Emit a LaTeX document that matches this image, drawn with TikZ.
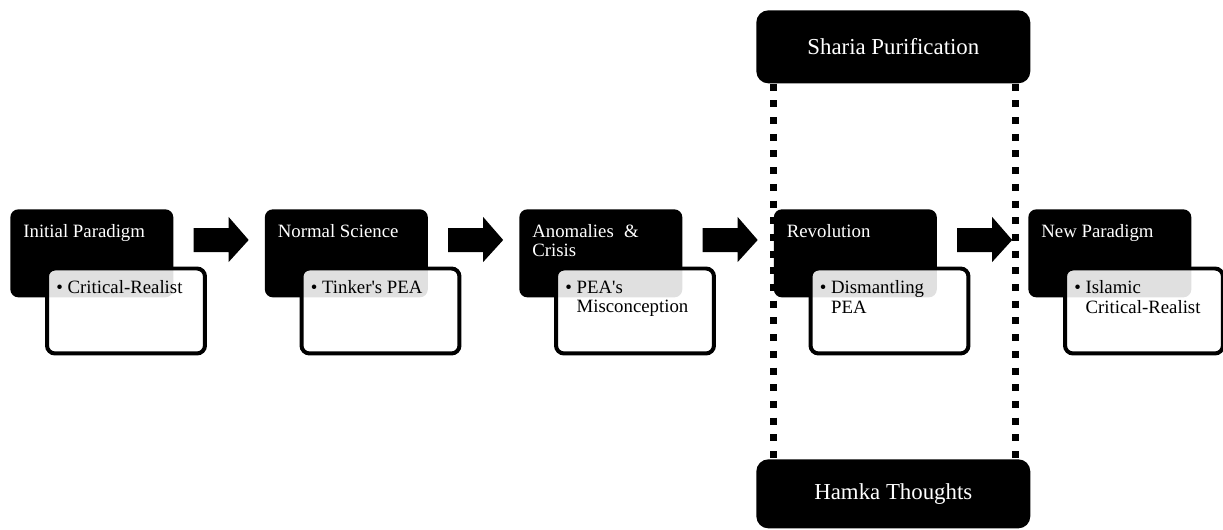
\documentclass[tikz,border=0pt]{standalone}
\usepackage{fontspec}
\setmainfont{Liberation Serif}
\usetikzlibrary{calc}
\newcommand{\bul}{\makebox[0.6em][l]{\textbullet}}
\newcommand{\hang}{\hspace*{0.6em}}
\tikzset{
  stagebox/.style={fill=black, rounded corners=0.16cm, minimum width=3.26cm, minimum height=1.76cm, inner sep=0, anchor=north west},
  itembox/.style={draw=black, line width=0.08cm, fill=white, fill opacity=0.88, rounded corners=0.16cm, minimum width=3.16cm, minimum height=1.7cm, inner sep=0, anchor=north west},
  stagetext/.style={text=white, anchor=north west, inner sep=0, align=left, font=\fontsize{10.7}{11}\selectfont},
  itemtext/.style={anchor=north west, inner sep=0, align=left, font=\fontsize{10.7}{11}\selectfont},
  sidebox/.style={fill=black, rounded corners=0.24cm, minimum width=5.48cm, inner sep=0, anchor=north west, text=white, font=\fontsize{13}{14}\selectfont},
  dotline/.style={line width=0.14cm, dash pattern=on 0.14cm off 0.194cm}
}
\begin{document}
\begin{tikzpicture}[x=0.02cm, y=-0.02cm]
\useasboundingbox (0,0) rectangle (1223,530);

% stages
\node[stagebox] (b1) at (10,209) {};
\node[stagebox] (b2) at (264.5,209) {};
\node[stagebox] (b3) at (519,209) {};
\node[stagebox] (b4) at (773.5,209) {};
\node[stagebox] (b5) at (1028,209) {};

\node[stagetext] (t1) at ($(b1.north west)+(13,15)$) {Initial Paradigm};
\node[stagetext] (t2) at ($(b2.north west)+(13,15)$) {Normal Science};
\node[stagetext] (t3) at ($(b3.north west)+(13,15)$) {Anomalies\hspace{0.55em}\&\\Crisis};
\node[stagetext] (t4) at ($(b4.north west)+(13,15)$) {Revolution};
\node[stagetext] (t5) at ($(b5.north west)+(13,15)$) {New Paradigm};

\node[itembox] (w1) at ($(b1.north west)+(35,57.5)$) {};
\node[itembox] (w2) at ($(b2.north west)+(35,57.5)$) {};
\node[itembox] (w3) at ($(b3.north west)+(35,57.5)$) {};
\node[itembox] (w4) at ($(b4.north west)+(35,57.5)$) {};
\node[itembox] (w5) at ($(b5.north west)+(35,57.5)$) {};

\node[itemtext] (i1) at ($(w1.north west)+(11,14)$) {\bul Critical-Realist};
\node[itemtext] (i2) at ($(w2.north west)+(11,14)$) {\bul Tinker\textquotesingle s PEA};
\node[itemtext] (i3) at ($(w3.north west)+(11,14)$) {\bul PEA\textquotesingle s\\\hang Misconception};
\node[itemtext] (i4) at ($(w4.north west)+(11,14)$) {\bul Dismantling\\\hang PEA};
\node[itemtext] (i5) at ($(w5.north west)+(11,14)$) {\bul Islamic\\\hang Critical-Realist};

% block arrows
\fill ($(b1.north east)+(20,19)$) -- ++(35,0) -- ++(0,-11) -- ++(20,23) -- ++(-20,22) -- ++(0,-10) -- ++(-35,0) -- cycle;
\fill ($(b2.north east)+(20,19)$) -- ++(35,0) -- ++(0,-11) -- ++(20,23) -- ++(-20,22) -- ++(0,-10) -- ++(-35,0) -- cycle;
\fill ($(b3.north east)+(20,19)$) -- ++(35,0) -- ++(0,-11) -- ++(20,23) -- ++(-20,22) -- ++(0,-10) -- ++(-35,0) -- cycle;
\fill ($(b4.north east)+(20,19)$) -- ++(35,0) -- ++(0,-11) -- ++(20,23) -- ++(-20,22) -- ++(0,-10) -- ++(-35,0) -- cycle;

% side boxes
\node[sidebox, minimum height=1.46cm] (sp) at (756,10) {Sharia Purification};
\node[sidebox, minimum height=1.38cm] (ht) at (756,459) {Hamka Thoughts};

\draw[dotline] ($(sp.south west)+(17,0)$) -- ($(ht.north west)+(17,0)$);
\draw[dotline] ($(sp.south east)+(-15,0)$) -- ($(ht.north east)+(-15,0)$);
\end{tikzpicture}
\end{document}
